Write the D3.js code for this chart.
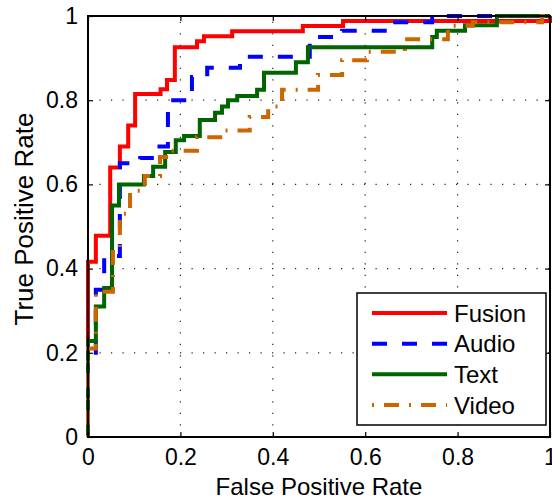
<!DOCTYPE html>
<html>
<head>
<meta charset="utf-8">
<script src="https://cdn.jsdelivr.net/npm/d3@7"></script>
<style>
  body { margin: 0; background: #fff; }
  text { font-family: Arial, "Liberation Sans", Helvetica, sans-serif; fill: #000; }
</style>
</head>
<body>
<svg id="chart" width="552" height="499"></svg>
<script>
// ROC corner points (top of every vertical rise)
const fusionFpr = [0, 0, 0.017, 0.048, 0.069, 0.087, 0.102, 0.157, 0.171, 0.188, 0.236, 0.251, 0.312, 0.465, 0.552, 1]
const fusionTpr = [0, 0.416, 0.478, 0.64, 0.69, 0.74, 0.815, 0.826, 0.848, 0.926, 0.94, 0.952, 0.964, 0.976, 0.988, 1]

const audioFpr = [0, 0, 0.017, 0.035, 0.069, 0.113, 0.149, 0.173, 0.225, 0.258, 0.329, 0.48, 0.55, 0.665, 0.745, 1]
const audioTpr = [0, 0.195, 0.35, 0.43, 0.65, 0.663, 0.69, 0.80, 0.855, 0.877, 0.903, 0.95, 0.965, 0.985, 1, 1]

const textFpr = [0, 0, 0.017, 0.035, 0.052, 0.067, 0.121, 0.141, 0.167, 0.19, 0.208, 0.242, 0.275, 0.29, 0.303, 0.323, 0.366, 0.381, 0.45, 0.476, 0.745, 0.755, 0.816, 0.885, 1]
const textTpr = [0, 0.228, 0.31, 0.354, 0.55, 0.60, 0.62, 0.642, 0.677, 0.705, 0.715, 0.753, 0.77, 0.785, 0.80, 0.81, 0.825, 0.865, 0.89, 0.926, 0.95, 0.965, 0.978, 1, 1]

const videoFpr = [0, 0, 0.017, 0.054, 0.069, 0.091, 0.123, 0.156, 0.177, 0.236, 0.296, 0.35, 0.39, 0.42, 0.498, 0.55, 0.604, 0.686, 0.779, 0.833, 0.983, 1]
const videoTpr = [0, 0.21, 0.345, 0.447, 0.53, 0.585, 0.62, 0.665, 0.68, 0.712, 0.728, 0.76, 0.785, 0.825, 0.86, 0.895, 0.915, 0.945, 0.977, 0.985, 1, 1]

const seriesNames = ["Fusion", "Audio", "Text", "Video"]
const tickValues = [0, 0.2, 0.4, 0.6, 0.8, 1]
const tickLabels = ["0", "0.2", "0.4", "0.6", "0.8", "1"]

const svg = d3.select("#chart")
const LEFT = 88, RIGHT = 550, TOP = 16, BOTTOM = 437
const FONT = 23

const xs = d3.scaleLinear().domain([0, 1]).range([LEFT, RIGHT])
const ys = d3.scaleLinear().domain([0, 1]).range([BOTTOM, TOP])

// styles per series
const STYLE = {
    Fusion: { color: "#ff0000", dash: null },
    Audio: { color: "#0000ff", dash: "15,15" },
    Text: { color: "#006400", dash: null },
    Video: { color: "#cc6600", dash: "2,10,15,10" }
}

// dotted grid
const grid = svg.append("g")
grid.selectAll("line.gx")
    .data(tickValues.slice(1, -1))
    .enter().append("line")
    .attr("x1", d => xs(d)).attr("x2", d => xs(d))
    .attr("y1", BOTTOM).attr("y2", TOP)
grid.selectAll("line.gy")
    .data(tickValues.slice(1, -1))
    .enter().append("line")
    .attr("x1", LEFT).attr("x2", RIGHT)
    .attr("y1", d => ys(d)).attr("y2", d => ys(d))
grid.selectAll("line")
    .style("stroke", "#222")
    .style("stroke-width", 1.2)
    .style("stroke-dasharray", "1.2,10.3")

// curves
const series = [
    { name: "Fusion", fpr: fusionFpr, tpr: fusionTpr },
    { name: "Audio", fpr: audioFpr, tpr: audioTpr },
    { name: "Text", fpr: textFpr, tpr: textTpr },
    { name: "Video", fpr: videoFpr, tpr: videoTpr }
]
const line = d3.line()
    .x(d => xs(d[0]))
    .y(d => ys(d[1]))
    .curve(d3.curveStepAfter)

series.forEach(s => {
    const pts = s.fpr.map((f, i) => [f, s.tpr[i]])
    svg.append("path")
        .attr("d", line(pts))
        .style("fill", "none")
        .style("stroke", STYLE[s.name].color)
        .style("stroke-width", 4)
        .style("stroke-linejoin", "miter")
        .style("stroke-dasharray", STYLE[s.name].dash)
})

// axes (box with inward ticks)
const TICK = 5
svg.append("g")
    .attr("transform", `translate(0,${BOTTOM})`)
    .call(d3.axisBottom(xs).tickValues(tickValues).tickSizeInner(-TICK).tickSizeOuter(0).tickFormat((d, i) => tickLabels[i]).tickPadding(11))
    .call(g => g.selectAll("text").style("font-size", FONT + "px").attr("dy", "0.72em").attr("font-family", null))
svg.append("g")
    .attr("transform", `translate(${LEFT},0)`)
    .call(d3.axisLeft(ys).tickValues(tickValues).tickSizeInner(-TICK).tickSizeOuter(0).tickFormat((d, i) => tickLabels[i]).tickPadding(10))
    .call(g => g.selectAll("text").style("font-size", FONT + "px").attr("font-family", null))
svg.append("g")
    .attr("transform", `translate(0,${TOP})`)
    .call(d3.axisTop(xs).tickValues(tickValues).tickSizeInner(-TICK).tickSizeOuter(0).tickFormat(""))
svg.append("g")
    .attr("transform", `translate(${RIGHT},0)`)
    .call(d3.axisRight(ys).tickValues(tickValues).tickSizeInner(-TICK).tickSizeOuter(0).tickFormat(""))
svg.selectAll(".domain").remove()
svg.selectAll(".tick line").style("stroke", "#000").style("stroke-width", 1.2)
svg.selectAll(".tick text").style("fill", "#000")

svg.append("rect")
    .attr("x", LEFT).attr("y", TOP)
    .attr("width", RIGHT - LEFT).attr("height", BOTTOM - TOP)
    .style("fill", "none")
    .style("stroke", "#000")
    .style("stroke-width", 2)

// axis titles
svg.append("text")
    .text("False Positive Rate")
    .attr("x", (LEFT + RIGHT) / 2)
    .attr("y", 495)
    .style("text-anchor", "middle")
    .style("font-size", "24px")
svg.append("text")
    .text("True Positive Rate")
    .attr("transform", `translate(33,219) rotate(-90)`)
    .style("text-anchor", "middle")
    .style("font-size", "26px")

// legend
const LX = 357, LY = 293, LW = 189, LH = 132
const legend = svg.append("g")
legend.append("rect")
    .attr("x", LX).attr("y", LY)
    .attr("width", LW).attr("height", LH)
    .style("fill", "#fff")
    .style("stroke", "#000")
    .style("stroke-width", 1.5)
const rowY = d3.scalePoint().domain(seriesNames).range([LY + 20, LY + 112])
seriesNames.forEach(name => {
    legend.append("line")
        .attr("x1", LX + 15).attr("x2", LX + 90)
        .attr("y1", rowY(name)).attr("y2", rowY(name))
        .style("stroke", STYLE[name].color)
        .style("stroke-width", 4)
        .style("stroke-dasharray", STYLE[name].dash)
    legend.append("text")
        .text(name)
        .attr("x", LX + 97)
        .attr("y", rowY(name))
        .attr("dy", "0.36em")
        .style("font-size", "24px")
})
</script>
</body>
</html>
